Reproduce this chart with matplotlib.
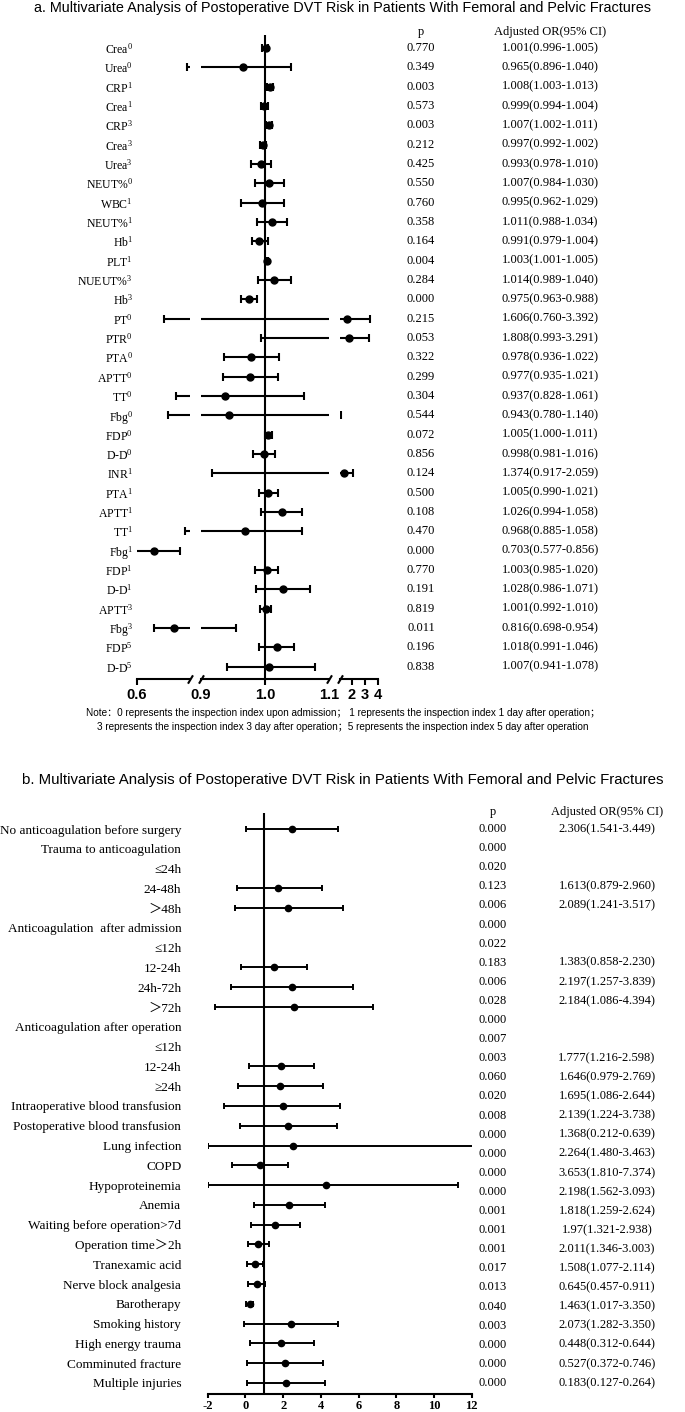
import numpy as np
import matplotlib
matplotlib.use('Agg')
import matplotlib.pyplot as plt
from matplotlib.transforms import blended_transform_factory

plt.rcParams['axes.unicode_minus'] = False
plt.rcParams['mathtext.default'] = 'regular'

W, H = 685, 1412

# ---- panel a: lab indices (superscript = day of test) ----
names_a = ['Crea', 'Urea', 'CRP', 'Crea', 'CRP', 'Crea', 'Urea', 'NEUT%', 'WBC', 'NEUT%',
           'Hb', 'PLT', 'NUEUT%', 'Hb', 'PT', 'PTR', 'PTA', 'APTT', 'TT', 'Fbg', 'FDP',
           'D-D', 'INR', 'PTA', 'APTT', 'TT', 'Fbg', 'FDP', 'D-D', 'APTT', 'Fbg', 'FDP', 'D-D']
days_a = [0, 0, 1, 1, 3, 3, 3, 0, 1, 1, 1, 1, 3, 3, 0, 0, 0, 0, 0, 0, 0, 0, 1, 1, 1, 1,
          1, 1, 1, 3, 3, 5, 5]
or_a = [1.001, 0.965, 1.008, 0.999, 1.007, 0.997, 0.993, 1.007, 0.995, 1.011, 0.991, 1.003,
        1.014, 0.975, 1.606, 1.808, 0.978, 0.977, 0.937, 0.943, 1.005, 0.998, 1.374, 1.005,
        1.026, 0.968, 0.703, 1.003, 1.028, 1.001, 0.816, 1.018, 1.007]
lo_a = [0.996, 0.896, 1.003, 0.994, 1.002, 0.992, 0.978, 0.984, 0.962, 0.988, 0.979, 1.001,
        0.989, 0.963, 0.760, 0.993, 0.936, 0.935, 0.828, 0.780, 1.000, 0.981, 0.917, 0.990,
        0.994, 0.885, 0.577, 0.985, 0.986, 0.992, 0.698, 0.991, 0.941]
hi_a = [1.005, 1.040, 1.013, 1.004, 1.011, 1.002, 1.010, 1.030, 1.029, 1.034, 1.004, 1.005,
        1.040, 0.988, 3.392, 3.291, 1.022, 1.021, 1.061, 1.140, 1.011, 1.016, 2.059, 1.021,
        1.058, 1.058, 0.856, 1.020, 1.071, 1.010, 0.954, 1.046, 1.078]
p_a = [0.770, 0.349, 0.003, 0.573, 0.003, 0.212, 0.425, 0.550, 0.760, 0.358, 0.164, 0.004,
       0.284, 0.000, 0.215, 0.053, 0.322, 0.299, 0.304, 0.544, 0.072, 0.856, 0.124, 0.500,
       0.108, 0.470, 0.000, 0.770, 0.191, 0.819, 0.011, 0.196, 0.838]

# ---- panel b: clinical factors ----
labels_b = ['No anticoagulation before surgery', 'Trauma to anticoagulation', '≤24h', '24-48h',
            '＞48h', 'Anticoagulation  after admission', '≤12h', '12-24h', '24h-72h', '＞72h',
            'Anticoagulation after operation', '≤12h', '12-24h', '≥24h',
            'Intraoperative blood transfusion', 'Postoperative blood transfusion',
            'Lung infection', 'COPD', 'Hypoproteinemia', 'Anemia', 'Waiting before operation>7d',
            'Operation time＞2h', 'Tranexamic acid', 'Nerve block analgesia', 'Barotherapy',
            'Smoking history', 'High energy trauma', 'Comminuted fracture', 'Multiple injuries']
nan = np.nan
est_b = [2.47, nan, nan, 1.75, 2.28, nan, nan, 1.50, 2.47, 2.58, nan, nan, 1.89, 1.84, 1.98,
         2.24, 2.51, 0.78, 4.27, 2.31, 1.59, 0.69, 0.50, 0.59, 0.22, 2.42, 1.91, 2.10, 2.15]
lo_b = [0.04, nan, nan, -0.47, -0.54, nan, nan, -0.22, -0.77, -1.61, nan, nan, 0.18, -0.40,
        -1.12, -0.31, -1.98, -0.70, -1.98, 0.43, 0.29, 0.13, 0.08, 0.13, 0.04, -0.08, 0.22,
        0.11, 0.11]
hi_b = [4.92, nan, nan, 4.04, 5.15, nan, nan, 3.26, 5.69, 6.75, nan, nan, 3.63, 4.09, 5.04,
        4.85, 12.5, 2.24, 11.29, 4.21, 2.91, 1.27, 0.92, 1.06, 0.41, 4.90, 3.63, 4.11, 4.21]
p_b = ['0.000', '0.000', '0.020', '0.123', '0.006', '0.000', '0.022', '0.183', '0.006', '0.028',
       '0.000', '0.007', '0.003', '0.060', '0.020', '0.008', '0.000', '0.000', '0.000', '0.000',
       '0.001', '0.001', '0.001', '0.017', '0.013', '0.040', '0.003', '0.000', '0.000', '0.000']
ortxt_b = ['2.306(1.541-3.449)', '', '', '1.613(0.879-2.960)', '2.089(1.241-3.517)', '', '',
           '1.383(0.858-2.230)', '2.197(1.257-3.839)', '2.184(1.086-4.394)', '', '',
           '1.777(1.216-2.598)', '1.646(0.979-2.769)', '1.695(1.086-2.644)',
           '2.139(1.224-3.738)', '1.368(0.212-0.639)', '2.264(1.480-3.463)',
           '3.653(1.810-7.374)', '2.198(1.562-3.093)', '1.818(1.259-2.624)',
           '1.97(1.321-2.938)', '2.011(1.346-3.003)', '1.508(1.077-2.114)',
           '0.645(0.457-0.911)', '1.463(1.017-3.350)', '2.073(1.282-3.350)',
           '0.448(0.312-0.644)', '0.527(0.372-0.746)', '0.183(0.127-0.264)']

serif = ['Liberation Serif', 'Noto Sans CJK SC']
sans = ['Liberation Sans', 'Noto Sans CJK SC']
TXT = 9


def box(l, t, r, b):
    """pixel box -> figure fraction rect"""
    return [l / W, 1 - b / H, (r - l) / W, (b - t) / H]


def inside(v, xl):
    v = np.asarray(v, dtype=float)
    return np.where((v >= xl[0]) & (v <= xl[1]), v, np.nan)


fig = plt.figure(figsize=(W / 100, H / 100), dpi=100)

# ---------------- panel a (broken x axis) ----------------
rows_a = np.arange(len(or_a))
segs = [((0.6, 0.912), box(137, 35, 190, 679), [0.6], ['0.6']),
        ((0.9, 1.1), box(201, 35, 329, 679), [0.9, 1.0, 1.1], ['0.9', '1.0', '1.1']),
        ((1.1, 4.0), box(340, 35, 378, 679), [2, 3, 4], ['2', '3', '4'])]
axes_a = []
for i, (xl, rect, tks, tkl) in enumerate(segs):
    ax = fig.add_axes(rect, sharey=axes_a[0] if axes_a else None)
    # CI lines are clipped by the segment, caps and points only drawn inside it
    ax.hlines(rows_a, lo_a, hi_a, color='black', lw=1.5)
    ax.plot(inside(lo_a, xl), rows_a, '|', color='black', ms=5.5, mew=1.5)
    ax.plot(inside(hi_a, xl), rows_a, '|', color='black', ms=5.5, mew=1.5)
    ax.plot(inside(or_a, xl), rows_a, 'o', color='black', ms=5)
    ax.set_xlim(*xl)
    ax.set_ylim(32.64, -0.67)
    for s in ['top', 'left', 'right']:
        ax.spines[s].set_visible(False)
    ax.spines['bottom'].set_linewidth(1.5)
    ax.set_xticks(tks)
    ax.set_xticklabels(tkl, fontsize=10.5, fontweight='bold', family=sans)
    ax.tick_params(axis='x', length=4.5, width=1.5, pad=2)
    if i == 1:
        ticks = ax.xaxis.get_major_ticks()
        ticks[0].tick1line.set_visible(False)
        ticks[2].tick1line.set_visible(False)
        ax.axvline(1.0, color='black', lw=1.5)
    if i == 0:
        ax.set_yticks(rows_a)
        ax.set_yticklabels([n + '$^{%d}$' % d for n, d in zip(names_a, days_a)],
                           fontsize=8.5, family='Liberation Serif')
        ax.tick_params(axis='y', length=0, pad=3)
    else:
        ax.tick_params(axis='y', left=False, labelleft=False)
    # break marks
    kw = dict(transform=ax.transAxes, marker=[(-0.6, -1), (0.6, 1)], markersize=6,
              linestyle='none', color='k', mec='k', mew=1.5, clip_on=False)
    if i < 2:
        ax.plot([1], [0], **kw)
    if i > 0:
        ax.plot([0], [0], **kw)
    axes_a.append(ax)

tr_a = blended_transform_factory(fig.transFigure, axes_a[0].transData)
fig.text(421 / W, -0.83, 'p', transform=tr_a, ha='center', va='center', fontsize=TXT,
         family=serif)
fig.text(550 / W, -0.83, 'Adjusted OR(95% CI)', transform=tr_a, ha='center', va='center',
         fontsize=TXT, family=serif)
for r in rows_a:
    fig.text(421 / W, r, '%.3f' % p_a[r], transform=tr_a, ha='center', va='center',
             fontsize=TXT, family=serif)
    fig.text(550 / W, r, '%.3f(%.3f-%.3f)' % (or_a[r], lo_a[r], hi_a[r]), transform=tr_a,
             ha='center', va='center', fontsize=TXT, family=serif)

fig.text(343 / W, 1 - 8 / H,
         'a. Multivariate Analysis of Postoperative DVT Risk in Patients With Femoral and Pelvic Fractures',
         ha='center', va='center', fontsize=10.4, family=sans)
fig.text(343 / W, 1 - 713 / H,
         'Note：0 represents the inspection index upon admission； 1 represents the inspection index 1 day after operation；',
         ha='center', va='center', fontsize=7.2, family=sans)
fig.text(343 / W, 1 - 727 / H,
         '3 represents the inspection index 3 day after operation；5 represents the inspection index 5 day after operation',
         ha='center', va='center', fontsize=7.2, family=sans)

# ---------------- panel b ----------------
rows_b = np.arange(len(labels_b))
axb = fig.add_axes(box(207.7, 813, 471.7, 1394))
est = np.array(est_b)
axb.errorbar(est, rows_b, xerr=[est - np.array(lo_b), np.array(hi_b) - est], fmt='o',
             color='black', ms=4.5, elinewidth=1.4, capsize=2, capthick=1.4)
axb.axvline(1, color='black', lw=1.5)
axb.set_xlim(-2, 12)
axb.set_ylim(28.56, -0.81)
for s in ['top', 'left', 'right']:
    axb.spines[s].set_visible(False)
axb.spines['bottom'].set_linewidth(1.5)
axb.set_xticks(np.arange(-2, 13, 2))
axb.set_xticklabels([str(v) for v in range(-2, 13, 2)], fontsize=9, fontweight='bold',
                    family='Liberation Serif')
axb.tick_params(axis='x', length=3, width=1.5, pad=1.5)
axb.set_yticks(rows_b)
axb.set_yticklabels(labels_b, fontsize=9.5, family=serif)
axb.tick_params(axis='y', length=0, pad=19)

tr_b = blended_transform_factory(fig.transFigure, axb.transData)
step = (len(labels_b) - 1) / (len(p_b) - 1)
fig.text(493 / W, -0.86, 'p', transform=tr_b, ha='center', va='center', fontsize=TXT,
         family=serif)
fig.text(607 / W, -0.86, 'Adjusted OR(95% CI)', transform=tr_b, ha='center', va='center',
         fontsize=TXT, family=serif)
for k in range(len(p_b)):
    fig.text(493 / W, k * step, p_b[k], transform=tr_b, ha='center', va='center',
             fontsize=TXT, family=serif)
    fig.text(607 / W, k * step, ortxt_b[k], transform=tr_b, ha='center', va='center',
             fontsize=TXT, family=serif)

fig.text(343 / W, 1 - 780 / H,
         'b. Multivariate Analysis of Postoperative DVT Risk in Patients With Femoral and Pelvic Fractures',
         ha='center', va='center', fontsize=10.85, family=sans)

fig.savefig('out.png', dpi=100)
